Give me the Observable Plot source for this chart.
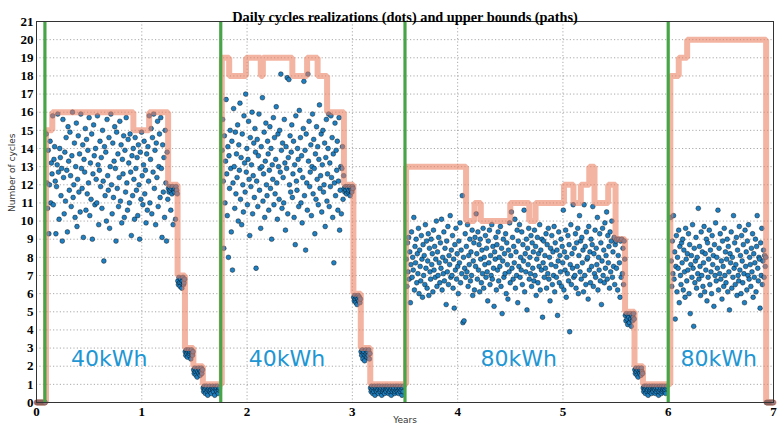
<!DOCTYPE html>
<html>
<head>
<meta charset="utf-8">
<script src="https://cdn.jsdelivr.net/npm/d3@7"></script>
<script src="https://cdn.jsdelivr.net/npm/@observablehq/plot@0.6"></script>
<style>
  html, body { margin: 0; padding: 0; background: #fff; }
  #chart svg { display: block; }
</style>
</head>
<body>
<div id="chart"></div>
<script>
// ---- Text ----
const chartTitle = "Daily cycles realizations (dots) and upper bounds (paths)";
const yLabel = "Number of cycles";
const xLabel = "Years";

// ---- Ticks ----
const xTicks = [0, 1, 2, 3, 4, 5, 6, 7];
const yTicks = [0, 1, 2, 3, 4, 5, 6, 7, 8, 9, 10, 11, 12, 13, 14, 15, 16, 17, 18, 19, 20, 21];

// ---- Battery replacements (green lines) and labels ----
const replaceYears = [0.08, 1.75, 3.5, 6.0];
const batteryLabels = ["40kWh", "40kWh", "80kWh", "80kWh"];
const labelYears = [0.69, 2.38, 4.58, 6.48];
const labelLevel = [2.4, 2.4, 2.4, 2.4];

// ---- Upper bound path (step-after) ----
const boundX = [0, 0.09, 0.15, 0.92, 1.07, 1.25, 1.34, 1.41, 1.49, 1.58,
  1.76, 1.83, 1.99, 2.13, 2.15, 2.43, 2.57, 2.67, 2.76, 2.92, 3.01, 3.08, 3.17,
  3.51, 4.08, 4.16, 4.22, 4.50, 4.68, 4.74, 5.01, 5.10, 5.17, 5.25, 5.30, 5.43, 5.50, 5.59, 5.68, 5.76,
  6.02, 6.10, 6.18, 6.93, 7.0];
const boundY = [0, 15, 16, 15, 16, 12, 7, 3, 2, 1,
  19, 18, 19, 18, 19, 18, 19, 18, 16, 12, 6, 3, 1,
  13, 10, 11, 10, 11, 10, 11, 12, 11, 12, 13, 11, 12, 9, 5, 2, 1,
  18, 19, 20, 0, 0];

// ---- Daily cycle realizations (dots), grouped in runs of days ----
const zerosStart = [0, 0, 0, 0, 0, 0, 0, 0, 0, 0, 0, 0, 0, 0, 0, 0];
const seg1Free = [
  14.8, 12.1, 10.7, 13.9, 9.3, 12.0, 14.4, 11.0, 13.2, 12.6, 15.8, 10.9, 13.4, 14.1, 12.2, 9.3, 11.9, 13.1, 15.9, 12.7,
  10.1, 14.0, 13.5, 11.4, 12.9, 8.9, 15.6, 12.4, 10.4, 13.8, 11.1, 14.6, 12.8, 9.4, 15.2, 13.3, 11.7, 14.9, 12.5, 10.8,
  13.6, 16.0, 11.3, 12.0, 14.3, 10.2, 13.0, 15.4, 9.7, 12.3, 14.7, 11.6, 13.7, 10.5, 15.9, 12.9, 11.8, 14.2, 9.1, 13.4,
  12.7, 15.1, 10.6, 14.5, 11.5, 13.9, 12.1, 15.7, 10.3, 13.2, 11.2, 14.8, 9.0, 12.6, 15.3, 13.6, 10.9, 14.0, 12.3, 11.0,
  15.8, 13.1, 9.8, 12.8, 14.4, 11.9, 13.5, 10.7, 15.0, 12.2, 7.8, 14.1, 11.4, 13.8, 10.0, 15.6, 12.5, 11.7, 14.6, 9.6,
  13.0, 15.9, 12.0, 10.4, 14.3, 11.3, 13.3, 15.2, 12.9, 8.9, 14.9, 11.8, 13.7, 10.8, 12.4, 15.5, 11.1, 14.2, 9.9, 13.4,
  12.6, 14.7, 10.2, 13.9, 11.6, 15.7, 12.1, 10.6, 14.5, 13.2, 11.0, 14.8, 12.7, 9.2, 13.6, 11.4, 14.0, 12.3, 10.1, 14.6,
  12.9, 11.7, 13.5, 10.3, 14.2, 12.0, 9.0, 13.8, 11.2, 14.9, 12.5, 10.9, 13.1, 14.4, 11.5, 12.8, 9.9, 13.7, 10.6, 14.1,
  12.2, 15.8, 11.0, 13.4, 15.1, 10.4, 14.6, 12.7, 15.9, 11.8, 13.9, 9.8, 14.3, 12.4, 15.5, 10.8, 13.0, 14.8, 11.3, 15.7,
  12.9, 9.1, 14.2, 11.6, 13.5, 10.2, 15.0, 12.1, 8.9, 13.8, 11.2];
const seg1At12 = [11.8, 11.6, 11.9, 11.7, 10.6, 11.8, 11.5, 11.9, 9.8, 11.7, 11.6, 11.8, 10.1, 11.9, 11.7, 11.5];
const seg1At7 = [6.7, 6.5, 6.9, 6.6, 6.4, 6.8, 6.6, 6.3, 6.7, 6.9, 6.5, 6.6, 6.8];
const seg1At3 = [2.8, 2.6, 2.9, 2.7, 2.5, 2.8, 2.9, 2.6, 2.7, 2.8, 2.4, 2.9, 2.7, 2.6, 2.8];
const seg1At2 = [1.8, 1.6, 1.9, 1.7, 1.5, 1.8, 1.4, 1.7, 1.9, 1.6, 1.8, 1.5, 1.7, 1.9, 1.6, 1.8];
const seg1At1 = [0.8, 0.6, 0.9, 0.7, 0.5, 0.8, 0.9, 0.6, 0.4, 0.7, 0.8, 0.9, 0.6, 0.7, 0.5, 0.8, 0.9, 0.7, 0.6, 0.8, 0.4, 0.9, 0.7, 0.8, 0.6, 0.9, 0.5, 0.7, 0.8];

const seg2Free = [
  13.9, 15.6, 12.2, 8.5, 14.7, 11.0, 13.3, 16.7, 12.6, 10.3, 14.1, 8.0, 13.6, 11.8, 15.0, 12.9, 9.4, 14.4, 7.3, 12.1,
  16.2, 13.0, 10.7, 14.9, 11.5, 13.7, 12.4, 15.3, 10.0, 14.2, 12.8, 16.5, 11.2, 13.5, 9.8, 14.8, 12.0, 10.5, 15.8, 13.2,
  11.6, 17.0, 12.7, 14.0, 10.9, 13.4, 15.5, 12.3, 9.2, 14.6, 11.9, 13.1, 16.0, 10.4, 12.5, 14.3, 11.3, 15.1, 13.8, 7.4,
  12.2, 14.5, 10.8, 13.6, 15.9, 11.7, 12.9, 9.6, 14.1, 13.0, 16.8, 11.1, 12.6, 14.9, 10.2, 13.3, 15.4, 12.0, 11.4, 14.4,
  13.7, 10.6, 12.8, 15.2, 11.8, 14.0, 9.0, 13.1, 12.3, 15.7, 10.9, 14.6, 11.5, 13.4, 16.3, 12.1, 10.1, 14.8, 13.0, 11.2,
  15.0, 12.7, 18.1, 13.9, 10.7, 14.3, 12.4, 11.0, 15.6, 13.2, 9.5, 14.1, 12.9, 17.9, 10.4, 13.5, 17.8, 12.0, 14.7, 11.6,
  13.8, 15.3, 11.3, 12.6, 14.4, 10.2, 13.1, 8.7, 15.8, 12.2, 11.7, 14.0, 13.4, 10.8, 16.1, 12.8, 14.6, 11.0, 13.6, 9.9,
  12.4, 15.1, 17.7, 11.4, 13.9, 8.4, 14.8, 12.1, 10.6, 18.1, 13.3, 15.5, 11.9, 12.7, 14.2, 10.3, 13.0, 15.9, 11.5, 14.5,
  12.9, 9.3, 13.7, 11.2, 15.2, 12.3, 14.1, 10.9, 13.4, 16.4, 11.8, 12.5, 14.8, 10.5, 13.1, 15.0, 11.6, 12.0, 14.3, 9.7,
  13.5, 15.6, 11.1, 12.6, 14.0, 15.9, 10.8, 13.2, 11.9, 15.8, 12.4, 14.6, 10.2, 13.7, 7.7, 12.1, 15.4, 11.4, 13.9, 12.8,
  14.4, 10.6, 12.2, 15.7, 9.5, 11.7, 13.0, 10.4, 12.9, 14.1, 11.2, 12.5];
const seg2At12 = [11.8, 11.6, 11.9, 11.7, 11.5, 11.9, 11.8, 11.6, 11.7, 11.9, 11.4, 11.8, 11.7, 11.6, 11.9, 11.8];
const seg2At6 = [5.8, 5.6, 5.9, 5.7, 5.5, 5.8, 5.4, 5.7, 5.9, 5.6, 5.8, 5.5, 5.7];
const seg2At3 = [2.8, 2.6, 2.9, 2.4, 2.7, 2.8, 2.3, 2.6, 2.9, 2.7, 2.5, 2.8, 2.6, 2.9, 2.4, 2.7];
const seg2At1 = [0.8, 0.6, 0.9, 0.7, 0.5, 0.8, 0.6, 0.9, 0.4, 0.7, 0.8, 0.6, 0.9, 0.7, 0.5, 0.8, 0.9, 0.6, 0.7, 0.8,
  0.4, 0.9, 0.6, 0.7, 0.8, 0.5, 0.9, 0.7, 0.6, 0.8, 0.9, 0.7, 0.5, 0.8, 0.6, 0.9, 0.7, 0.4, 0.8, 0.6,
  0.9, 0.7, 0.8, 0.5, 0.6, 0.9, 0.7, 0.8, 0.6, 0.9, 0.5, 0.7, 0.8, 0.6, 0.9, 0.7, 0.4, 0.8, 0.6, 0.9];

const seg3Free = [
  7.9, 6.4, 8.8, 7.2, 9.1, 6.8, 8.3, 5.5, 7.6, 9.4, 6.9, 8.0, 7.3, 10.2, 6.2, 8.6, 7.7, 9.0, 6.6, 8.2,
  7.1, 9.6, 6.0, 8.4, 7.5, 6.7, 9.2, 7.9, 5.8, 8.7, 7.0, 8.1, 6.5, 9.8, 7.4, 8.9, 6.3, 7.8, 9.3, 5.9,
  8.5, 7.2, 6.8, 9.0, 7.6, 8.2, 6.1, 9.5, 7.3, 8.6, 6.9, 7.9, 10.0, 6.4, 8.3, 7.0, 9.1, 7.7, 6.6, 8.8,
  7.4, 10.1, 6.2, 8.0, 7.1, 9.4, 6.7, 8.5, 7.8, 5.4, 8.9, 7.2, 9.7, 6.5, 8.1, 7.6, 10.3, 6.9, 8.4, 7.0,
  9.2, 6.3, 7.9, 5.2, 8.7, 7.3, 9.6, 6.8, 8.2, 7.5, 6.0, 8.9, 7.7, 9.9, 6.6, 8.4, 7.1, 11.4, 4.4, 8.0,
  4.5, 7.4, 9.3, 6.9, 8.6, 7.2, 9.8, 6.4, 8.1, 7.6, 9.0, 6.7, 8.3, 7.0, 9.5, 5.9, 7.8, 8.8, 6.2, 9.1,
  7.5, 10.4, 8.2, 6.8, 9.4, 7.3, 8.7, 6.1, 9.0, 7.9, 6.6, 8.4, 7.1, 9.6, 6.3, 8.0, 7.6, 9.2, 6.9, 8.5,
  7.2, 5.6, 8.9, 7.7, 9.5, 6.5, 8.1, 7.0, 9.8, 6.8, 8.6, 7.4, 5.3, 8.3, 7.9, 9.1, 6.2, 8.7, 7.3, 9.4,
  6.7, 8.0, 7.5, 9.7, 6.4, 8.5, 4.9, 7.8, 9.0, 6.9, 8.2, 7.1, 9.3, 6.0, 8.8, 7.6, 5.7, 8.4, 7.2, 9.9,
  6.6, 8.1, 10.5, 7.4, 9.1, 6.8, 8.6, 7.7, 10.1, 6.3, 8.3, 7.0, 9.5, 5.5, 8.9, 7.5, 9.8, 6.9, 8.0, 7.3,
  9.4, 6.5, 8.7, 7.8, 10.6, 6.1, 8.2, 7.2, 9.0, 5.1, 8.5, 7.6, 9.6, 6.8, 8.0, 7.1, 9.2, 6.4, 8.8, 7.4,
  8.3, 6.7, 9.5, 7.0, 8.6, 5.9, 7.9, 9.1, 6.6, 8.2, 7.5, 9.8, 6.2, 8.4, 7.3, 9.0, 4.7, 7.7, 8.9, 6.9,
  8.1, 7.4, 9.3, 6.3, 8.7, 7.1, 9.6, 6.8, 8.0, 5.6, 8.5, 7.6, 9.2, 6.5, 8.3, 7.0, 9.7, 6.1, 8.8, 7.5,
  6.9, 8.4, 4.8, 7.8, 9.4, 6.6, 8.1, 7.2, 9.0, 6.4, 8.6, 7.7, 10.6, 6.2, 8.3, 7.3, 9.5, 5.8, 8.0, 7.1,
  9.2, 6.7, 8.7, 3.9, 7.6, 9.8, 6.5, 8.2, 7.4, 10.9, 6.9, 8.5, 7.0, 9.3, 6.3, 8.8, 7.5, 9.6, 6.0, 8.1,
  10.3, 7.2, 8.9, 6.8, 9.1, 7.7, 8.4, 6.1, 10.9, 7.0, 8.6, 6.5, 9.4, 7.9, 8.0, 5.7, 9.7, 7.3, 8.3, 6.6,
  9.0, 7.5, 8.7, 10.8, 6.4, 8.2, 7.1, 9.5, 6.9, 8.5, 7.6, 10.2, 6.2, 8.0, 7.3, 9.3, 6.7, 8.8, 5.4, 7.8,
  9.6, 7.0, 8.4, 6.6, 9.9, 7.4, 8.1, 10.5, 6.8, 9.2, 7.7, 8.6, 6.3, 9.4, 7.2, 8.9, 10.0, 6.9, 8.3, 7.5,
  9.1, 6.5, 8.7];
const seg3At9 = [8.9, 7.4, 9.0, 6.2, 8.1, 9.0, 7.7, 5.8, 8.9, 6.9, 9.0, 7.1, 8.5, 6.5, 8.9, 7.9];
const seg3At5 = [4.8, 4.5, 4.9, 4.6, 4.3, 4.8, 4.7, 4.4, 4.9, 4.6, 4.2, 4.8, 4.5, 4.7, 4.9, 4.6];
const seg3At2 = [1.8, 1.6, 1.9, 1.7, 1.5, 1.8, 1.4, 1.9, 1.7, 1.6, 1.8, 1.5, 1.9, 1.7, 1.6];
const seg3At1 = [0.8, 0.6, 0.9, 0.7, 0.5, 0.8, 0.9, 0.6, 0.7, 0.4, 0.8, 0.9, 0.6, 0.7, 0.8, 0.5, 0.9, 0.7, 0.6, 0.8,
  0.9, 0.7, 0.5, 0.8, 0.6, 0.9, 0.7, 0.8, 0.4, 0.6, 0.9, 0.7, 0.8, 0.5, 0.9, 0.6, 0.7, 0.8, 0.9, 0.6,
  0.7, 0.5, 0.8, 0.9];

const seg4Free = [
  10.2, 7.8, 6.4, 8.9, 7.1, 10.3, 6.8, 8.3, 4.6, 7.5, 9.2, 6.1, 8.0, 7.4, 9.5, 5.5, 8.6, 7.0, 6.5, 8.8,
  7.7, 9.0, 6.2, 8.4, 7.2, 5.8, 9.6, 7.9, 6.7, 8.2, 7.3, 9.3, 6.0, 8.7, 4.9, 7.6, 8.1, 6.9, 9.8, 7.4,
  4.2, 8.5, 6.6, 7.8, 9.1, 6.3, 8.0, 7.1, 10.7, 6.8, 8.6, 7.5, 5.9, 9.4, 7.0, 8.3, 6.4, 7.7, 9.7, 6.1,
  8.2, 7.3, 9.0, 5.6, 8.8, 6.9, 7.9, 9.5, 6.5, 8.4, 7.2, 6.0, 9.2, 7.6, 8.1, 5.3, 8.7, 7.0, 9.9, 6.7,
  8.0, 7.4, 10.6, 6.2, 8.5, 7.1, 9.3, 6.8, 7.8, 5.7, 8.9, 7.5, 6.4, 9.6, 7.0, 8.3, 6.6, 7.9, 9.0, 6.1,
  8.6, 7.2, 5.1, 8.2, 7.7, 9.4, 6.3, 8.0, 6.9, 10.3, 7.4, 8.8, 6.5, 7.6, 9.1, 5.9, 8.4, 7.0, 6.7, 9.7,
  7.3, 8.1, 6.0, 9.2, 7.8, 6.6, 8.7, 7.1, 5.5, 9.5, 7.5, 8.3, 6.2, 8.9, 7.0, 9.8, 6.8, 8.0, 7.6, 6.4,
  8.5, 7.2, 9.3, 5.8, 8.2, 6.9, 7.7, 9.0, 6.1, 8.6, 10.3, 7.4, 6.7, 8.0, 7.9, 5.2, 8.8, 7.0, 9.6, 6.5,
  7.8, 8.4, 6.9, 8.1, 7.5, 8.0];
const zerosEnd = [0, 0, 0, 0, 0, 0, 0, 0, 0, 0, 0, 0, 0];

// runs: which days (in years) each list of daily values covers
const runFrom = [0.0, 0.09, 1.25, 1.34, 1.41, 1.49, 1.58, 1.76, 2.92, 3.01, 3.08, 3.17, 3.51, 5.50, 5.59, 5.68, 5.76, 6.02, 6.93];
const runTo   = [0.085, 1.25, 1.34, 1.41, 1.49, 1.58, 1.74, 2.92, 3.01, 3.08, 3.17, 3.49, 5.50, 5.59, 5.68, 5.76, 5.99, 6.93, 7.0];
const runValues = [zerosStart, seg1Free, seg1At12, seg1At7, seg1At3, seg1At2, seg1At1,
  seg2Free, seg2At12, seg2At6, seg2At3, seg2At1,
  seg3Free, seg3At9, seg3At5, seg3At2, seg3At1,
  seg4Free, zerosEnd];

// ---- Build tables ----
const dots = runValues.flatMap((vals, k) =>
  vals.map((v, i) => ({year: runFrom[k] + (runTo[k] - runFrom[k]) * (i + 0.5) / vals.length, cycles: v})));
const bound = boundX.map((x, i) => ({year: x, cycles: boundY[i]}));
const labels = batteryLabels.map((t, i) => ({text: t, year: labelYears[i], cycles: labelLevel[i]}));

const serif = "'Liberation Serif', 'DejaVu Serif', serif";
const sans = "'DejaVu Sans', 'Liberation Sans', sans-serif";

const chart = Plot.plot({
  width: 777,
  height: 428,
  marginTop: 21,
  marginBottom: 26,
  marginLeft: 36,
  marginRight: 4,
  style: {background: "#fff", color: "#000", overflow: "visible"},
  x: {domain: [0, 7]},
  y: {domain: [0, 21]},
  marks: [
    Plot.gridX(xTicks, {stroke: "#888", strokeOpacity: 0.8, strokeDasharray: "1.2,2.2", strokeWidth: 0.9}),
    Plot.gridY(yTicks, {stroke: "#888", strokeOpacity: 0.8, strokeDasharray: "1.2,2.2", strokeWidth: 0.9}),
    Plot.dot(dots, {x: "year", y: "cycles", r: 2.4, fill: "#1f7fc0", stroke: "#000", strokeOpacity: 0.8, strokeWidth: 0.5}),
    Plot.line(bound, {x: "year", y: "cycles", curve: "step-after", stroke: "#ec7d5f", strokeOpacity: 0.58, strokeWidth: 6, strokeLinejoin: "miter"}),
    Plot.ruleX(replaceYears, {stroke: "#47a447", strokeWidth: 3.2}),
    Plot.text(labels, {x: "year", y: "cycles", text: "text", fill: "#2196d3", fontSize: 22, fontFamily: sans}),
    Plot.frame({stroke: "#333", strokeWidth: 1}),
    Plot.axisX(xTicks, {tickSize: 0, tickPadding: 4, fontSize: 13, fontWeight: "bold", fontFamily: serif, label: null}),
    Plot.axisY(yTicks, {tickSize: 0, tickPadding: 3, fontSize: 13, fontWeight: "bold", fontFamily: serif, label: null}),
    Plot.text([chartTitle], {frameAnchor: "top", dy: -10, fontSize: 14.3, fontWeight: "bold", fontFamily: serif}),
    Plot.text([yLabel], {frameAnchor: "left", dx: -24, rotate: -90, fontSize: 9, fontFamily: sans, fill: "#333"}),
    Plot.text([xLabel], {frameAnchor: "bottom", dy: 20, fontSize: 9, fontFamily: sans, fill: "#333"})
  ]
});
document.getElementById("chart").appendChild(chart);
</script>
</body>
</html>
